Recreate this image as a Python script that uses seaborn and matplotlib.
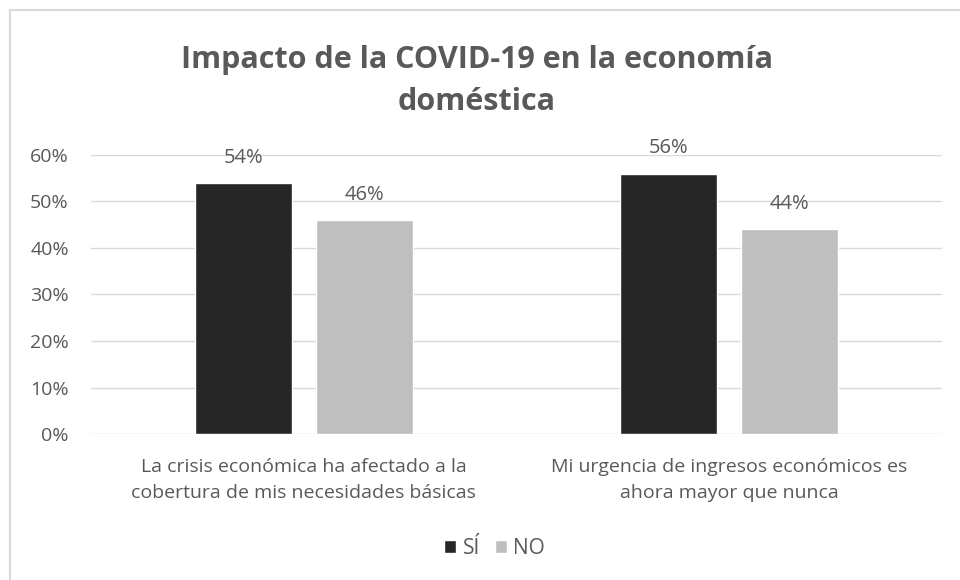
"""Gráfico de barras: Impacto de la COVID-19 en la economía doméstica."""
import pandas as pd
import matplotlib
matplotlib.use("Agg")
import matplotlib.pyplot as plt
import seaborn as sns
from matplotlib.ticker import PercentFormatter

# Datos
categorias = [
    "La crisis económica ha afectado a la\ncobertura de mis necesidades básicas",
    "Mi urgencia de ingresos económicos es\nahora mayor que nunca",
]
respuestas = ["SÍ", "NO"]
valores_si = [0.54, 0.56]
valores_no = [0.46, 0.44]
colores = ["#262626", "#bfbfbf"]
texto_gris = "#595959"

df = pd.DataFrame({
    "categoria": categorias * 2,
    "respuesta": [respuestas[0]] * 2 + [respuestas[1]] * 2,
    "valor": valores_si + valores_no,
})

sns.set_theme(style="white")
plt.rcParams["font.family"] = ["Open Sans", "DejaVu Sans"]

fig = plt.figure(figsize=(9.6, 5.8), dpi=100)
ax = fig.add_axes([0.0948, 0.2517, 0.8862, 0.4811])

sns.barplot(data=df, x="categoria", y="valor", hue="respuesta",
            palette=colores, width=0.57, gap=0.2, ax=ax, saturation=1)

# Etiquetas de datos
for cont in ax.containers:
    ax.bar_label(cont, labels=[f"{v:.0%}" for v in cont.datavalues],
                 padding=11, color=texto_gris, fontsize=14.5)

ax.set_ylim(0, 0.6)
ax.set_xlim(-0.5, 1.5)
ax.set_yticks([0, 0.1, 0.2, 0.3, 0.4, 0.5, 0.6])
ax.yaxis.set_major_formatter(PercentFormatter(1.0, decimals=0))
ax.grid(axis="y", color="#d9d9d9", linewidth=1)
ax.set_axisbelow(True)
for s in ax.spines.values():
    s.set_visible(False)
ax.tick_params(axis="y", colors=texto_gris, labelsize=14, length=0, pad=16)
ax.tick_params(axis="x", colors=texto_gris, labelsize=14, length=0, pad=17)
for lbl in ax.get_xticklabels():
    lbl.set_linespacing(1.6)
ax.set_xlabel("")
ax.set_ylabel("")

# Título
fig.text(0.497, 0.86, "Impacto de la COVID-19 en la economía\ndoméstica",
         ha="center", va="center", fontsize=22, color=texto_gris,
         fontweight="bold", linespacing=1.5)

# Leyenda
handles, labels = ax.get_legend_handles_labels()
ax.get_legend().remove()
fig.legend(handles, labels, loc="center", bbox_to_anchor=(0.515, 0.055), ncol=2,
           frameon=False, fontsize=15, labelcolor=texto_gris,
           handlelength=0.6, handleheight=0.6, handletextpad=0.3, columnspacing=0.7)

# Borde del gráfico
borde = plt.Rectangle((10 / 960, -0.1), 1.2, 1 - 10 / 580 + 0.1, transform=fig.transFigure,
                      fill=False, edgecolor="#d9d9d9", linewidth=1.5)
fig.patches.append(borde)

fig.savefig("out.png", dpi=100)
plt.close(fig)
